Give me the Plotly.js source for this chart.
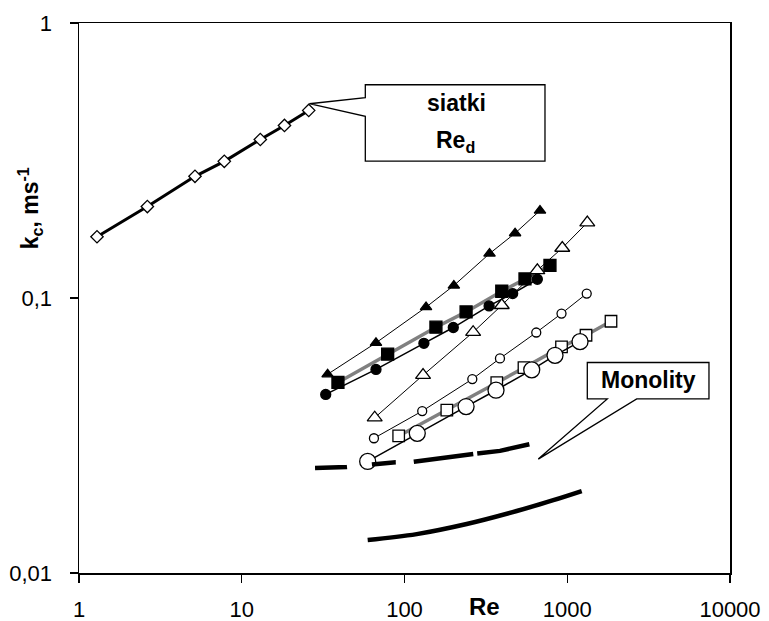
<!DOCTYPE html>
<html><head><meta charset="utf-8">
<script src="https://cdn.plot.ly/plotly-3.0.1.min.js"></script>
<style>body{margin:0;background:#fff}#g{width:769px;height:621px}</style>
</head><body><div id="g"></div>
<script>
// siatki (Re_d), open diamonds
const siatkiRe = [1.29, 2.63, 5.16, 7.81, 13.0, 18.3, 25.8];
const siatkiK  = [0.167, 0.215, 0.277, 0.314, 0.377, 0.424, 0.481];
// filled triangles
const triFRe = [33.7, 66.8, 135.6, 201, 333, 478, 680];
const triFK  = [0.0528, 0.0687, 0.0926, 0.111, 0.145, 0.172, 0.208];
// filled squares (grey line)
const sqFRe = [39.0, 78.8, 156, 239, 396, 550, 783];
const sqFK  = [0.0493, 0.0625, 0.0783, 0.089, 0.1058, 0.1173, 0.1315];
// filled circles
const ciFRe = [32.8, 66.8, 131.6, 199.4, 331, 462, 655];
const ciFK  = [0.0446, 0.055, 0.0684, 0.0781, 0.0936, 0.1038, 0.117];
// open triangles
const triORe = [65.6, 130, 264, 396, 655, 932, 1328];
const triOK  = [0.0367, 0.0524, 0.0751, 0.0941, 0.1261, 0.152, 0.188];
// small open circles
const ciSRe = [64.9, 128.5, 261, 386, 645, 922, 1317];
const ciSK  = [0.0309, 0.0388, 0.0507, 0.0603, 0.0749, 0.0878, 0.1038];
// open squares (grey line)
const sqORe = [92.1, 182, 369, 542, 922, 1304, 1857];
const sqOK  = [0.0315, 0.0391, 0.0492, 0.0558, 0.0664, 0.0732, 0.0823];
// large open circles
const ciLRe = [59.4, 119.8, 239, 365, 605, 841, 1198];
const ciLK  = [0.02545, 0.0322, 0.0403, 0.0462, 0.0548, 0.0619, 0.0694];
// Monolity, dashed line
const monoDRe = [28.2, 44.2, 88.3, 113.3, 264.7, 386, 585];
const monoDK  = [0.0241, 0.0243, 0.0253, 0.02537, 0.0271, 0.0278, 0.0294];
// Monolity, solid line
const monoSRe = [59.4, 118.9, 241, 489, 821, 1227];
const monoSK  = [0.01318, 0.01385, 0.01507, 0.0168, 0.0184, 0.01986];

const xTicks = [1, 10, 100, 1000, 10000];
const xTickText = ['1', '10', '100', '1000', '10000'];
const yTicks = [0.01, 0.1, 1];
const yTickText = ['0,01', '0,1', '1'];

const L = 79, R = 730, T = 22.5, B = 573;
const W = R - L, H = B - T;
const px = x => (x - L) / W;
const py = y => (B - y) / H;
function path(pts) {
  return 'M ' + pts.map(p => px(p[0]).toFixed(4) + ',' + py(p[1]).toFixed(4)).join(' L ') + ' Z';
}

function tr(x, y, sym, size, mfill, lcol, lw, extra) {
  return Object.assign({
    x: x, y: y, type: 'scatter', mode: 'lines+markers',
    line: {color: lcol, width: lw},
    marker: {symbol: sym, size: size, color: mfill, line: {color: '#000', width: 1.3}},
    hoverinfo: 'skip'
  }, extra || {});
}

const data = [
  tr(siatkiRe, siatkiK, 'diamond', 9.5, '#fff', '#000', 3),
  tr(triFRe, triFK, 'triangle-up', 10, '#000', '#000', 1),
  tr(sqFRe, sqFK, 'square', 12, '#000', '#808080', 3.5),
  tr(ciFRe, ciFK, 'circle', 10, '#000', '#000', 1.5),
  tr(triORe, triOK, 'triangle-up', 13, '#fff', '#000', 1),
  tr(ciSRe, ciSK, 'circle', 9, '#fff', '#000', 1),
  tr(sqORe, sqOK, 'square', 11.5, '#fff', '#808080', 3.5),
  tr(ciLRe, ciLK, 'circle', 16, '#fff', '#000', 1.5),
  {x: monoDRe, y: monoDK, type: 'scatter', mode: 'lines', hoverinfo: 'skip',
   line: {color: '#000', width: 4.5, dash: '32px,25px,24px,18px,60px,4px,60px'}},
  {x: monoSRe, y: monoSK, type: 'scatter', mode: 'lines', hoverinfo: 'skip',
   line: {color: '#000', width: 4.5, shape: 'spline'}}
];

const fnt = 'Liberation Sans, Arial, sans-serif';
const layout = {
  width: 769, height: 621,
  margin: {l: L, r: 769 - R, t: T, b: 621 - B, pad: 0},
  paper_bgcolor: '#fff', plot_bgcolor: '#fff',
  showlegend: false,
  font: {family: fnt, size: 22, color: '#000'},
  xaxis: {type: 'log', range: [0, 4], tickvals: xTicks, ticktext: xTickText,
    ticks: 'outside', ticklen: 8, tickwidth: 1.3, tickcolor: '#000',
    showline: true, linecolor: '#000', linewidth: 1.5, mirror: true,
    showgrid: false, zeroline: false, ticklabelstandoff: 8,
    tickfont: {family: fnt, size: 22, color: '#000'}},
  yaxis: {type: 'log', range: [-2, 0], tickvals: yTicks, ticktext: yTickText,
    ticks: 'outside', ticklen: 8, tickwidth: 1.3, tickcolor: '#000',
    showline: true, linecolor: '#000', linewidth: 1.5, mirror: true,
    showgrid: false, zeroline: false, ticklabelstandoff: 13,
    tickfont: {family: fnt, size: 22, color: '#000'}},
  shapes: [
    {type: 'path', xref: 'paper', yref: 'paper', fillcolor: '#fff', line: {color: '#000', width: 1.3},
     path: path([[365.3, 84.3], [545, 84.3], [545, 160.7], [365.3, 160.7], [365.3, 116], [309.3, 103.3], [365.3, 97.3]])},
    {type: 'path', xref: 'paper', yref: 'paper', fillcolor: '#fff', line: {color: '#000', width: 1.3},
     path: path([[587.3, 362.3], [709, 362.3], [709, 398.7], [636.7, 398.7], [538.3, 459], [607.3, 398.7], [587.3, 398.7]])}
  ],
  annotations: [
    {xref: 'paper', yref: 'paper', x: px(456), y: py(103), text: '<b>siatki</b>', showarrow: false,
     font: {family: fnt, size: 23, color: '#000'}, xanchor: 'center', yanchor: 'middle'},
    {xref: 'paper', yref: 'paper', x: px(455), y: py(141), text: '<b>Re<sub>d</sub></b>', showarrow: false,
     font: {family: fnt, size: 23, color: '#000'}, xanchor: 'center', yanchor: 'middle'},
    {xref: 'paper', yref: 'paper', x: px(648), y: py(380), text: '<b>Monolity</b>', showarrow: false,
     font: {family: fnt, size: 23, color: '#000'}, xanchor: 'center', yanchor: 'middle'},
    {xref: 'paper', yref: 'paper', x: px(484), y: py(607), text: '<b>Re</b>', showarrow: false,
     font: {family: fnt, size: 24, color: '#000'}, xanchor: 'center', yanchor: 'middle'},
    {xref: 'paper', yref: 'paper', x: px(30), y: py(208), text: '<b>k<sub>c</sub>, ms<sup>-1</sup></b>', showarrow: false,
     textangle: -90, font: {family: fnt, size: 23, color: '#000'}, xanchor: 'center', yanchor: 'middle'}
  ]
};
Plotly.newPlot('g', data, layout, {staticPlot: true, displayModeBar: false});
</script>
</body></html>
